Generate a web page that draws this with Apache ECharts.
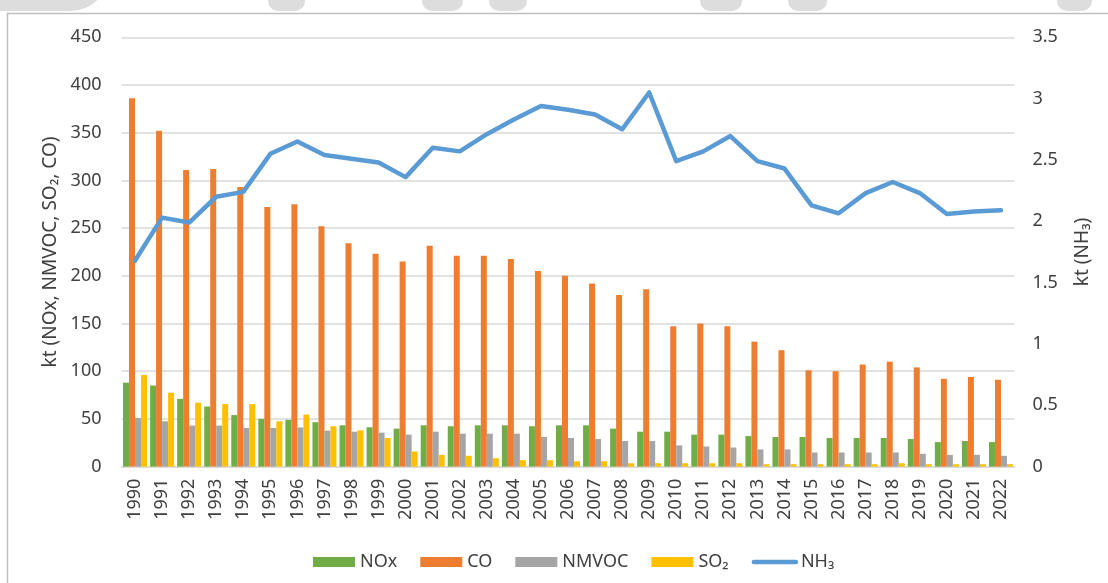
<!DOCTYPE html>
<html>
<head>
<meta charset="utf-8">
<script src="https://cdn.jsdelivr.net/npm/echarts@6/dist/echarts.min.js"></script>
<style>
html, body { margin: 0; padding: 0; background: #fff; }
#chart { width: 1108px; height: 583px; }
</style>
</head>
<body>
<div id="chart"></div>
<script>
// years on the category axis
var years = ['1990','1991','1992','1993','1994','1995','1996','1997','1998','1999','2000',
    '2001','2002','2003','2004','2005','2006','2007','2008','2009','2010','2011',
    '2012','2013','2014','2015','2016','2017','2018','2019','2020','2021','2022'];

// kt, left axis
var nox = [88, 85, 71, 63, 54, 50, 49, 46.5, 43.3, 41.2, 39.8, 43.3, 42.3, 43.3, 43.3, 42.3,
    43.3, 43.3, 39.8, 36.6, 36.6, 33.5, 33.5, 32, 31, 31, 30, 30, 30, 28.9, 25.7, 26.8, 25.7];
var co = [386, 352, 311, 312, 293, 272, 275, 252, 234, 223, 215, 231.5, 221, 221, 217.5, 205,
    200, 192, 180, 186, 147, 150, 147, 131, 122, 101, 100, 107, 110, 104, 92, 94, 91];
var nmvoc = [51, 47.5, 43, 43, 40.5, 40.5, 41, 37.7, 36.6, 35.6, 33.5, 36.6, 34.5, 34.5, 34.5, 31,
    30, 28.9, 26.8, 26.8, 22.2, 21.1, 20, 18, 18, 14.8, 14.8, 14.8, 14.8, 13.4, 12.3, 12.3, 11.3];
var so2 = [96, 77.5, 67, 65.5, 65.5, 47.5, 54.6, 42.3, 38, 30, 15.8, 12.3, 11.3, 8.8, 6.7, 6.7,
    5.6, 5.6, 3.5, 3.5, 3.5, 3.5, 3.5, 2.5, 2.5, 2.5, 2.5, 2.5, 3.5, 2.5, 2.5, 2.5, 2.5];
// kt, right axis
var nh3 = [1.68, 2.03, 1.99, 2.2, 2.24, 2.55, 2.65, 2.54, 2.51, 2.48, 2.36, 2.6, 2.57, 2.71, 2.83, 2.94,
    2.91, 2.87, 2.75, 3.05, 2.49, 2.57, 2.695, 2.49, 2.43, 2.13, 2.065, 2.23, 2.32, 2.23, 2.06, 2.08, 2.09];

var FONT = 'Noto Sans';
var TXT = '#404040';
var GRIDC = '#d9d9d9';

function barSeries(name, data, color) {
    return {
        name: name,
        type: 'bar',
        data: data,
        barWidth: 6,
        barGap: '0%',
        itemStyle: { color: color },
        emphasis: { disabled: true }
    };
}

// light grey shapes cut off at the top edge of the picture
function tab(x, w) {
    return {
        type: 'rect',
        shape: { x: x, y: -12, width: w, height: 23, r: 10 },
        style: { fill: '#dddddd' },
        silent: true
    };
}

var option = {
    animation: false,
    textStyle: { fontFamily: FONT },
    graphic: [
        { type: 'rect', shape: { x: -30, y: -30, width: 140, height: 41, r: [0, 0, 40, 0] },
          style: { fill: '#dddddd' }, silent: true },
        tab(268, 37), tab(422, 41), tab(489, 38), tab(700, 42), tab(788, 39), tab(1057, 35),
        { type: 'rect', shape: { x: 7.5, y: 13.5, width: 1110, height: 580 },
          style: { fill: 'none', stroke: '#bfbfbf', lineWidth: 1.5 }, silent: true }
    ],
    grid: { left: 121.5, right: 93.5, top: 37.3, bottom: 116.4 },
    legend: {
        left: 308,
        top: 548,
        itemWidth: 42,
        itemHeight: 10,
        itemGap: 23,
        textStyle: { fontFamily: FONT, fontSize: 18, color: TXT },
        data: [
            { name: 'NOx', icon: 'rect' },
            { name: 'CO', icon: 'rect' },
            { name: 'NMVOC', icon: 'rect' },
            { name: 'SO₂', icon: 'rect' },
            { name: 'NH₃', itemStyle: { opacity: 0 }, lineStyle: { width: 4.5 } }
        ]
    },
    xAxis: {
        type: 'category',
        data: years,
        axisLine: { lineStyle: { color: GRIDC, width: 1.5 } },
        axisTick: { show: false },
        axisLabel: { rotate: 90, fontSize: 18, color: TXT, margin: 12, fontFamily: FONT }
    },
    yAxis: [
        {
            type: 'value',
            min: 0, max: 450, interval: 50,
            name: 'kt (NOx, NMVOC, SO₂, CO)',
            nameLocation: 'middle',
            nameRotate: 90,
            nameGap: 61,
            nameTextStyle: { fontSize: 19, color: TXT, fontFamily: FONT },
            axisLine: { show: false },
            axisTick: { show: false },
            axisLabel: { fontSize: 18, color: TXT, margin: 20, fontFamily: FONT },
            splitLine: { lineStyle: { color: GRIDC, width: 1.5 } }
        },
        {
            type: 'value',
            min: 0, max: 3.5, interval: 0.5,
            name: 'kt (NH₃)',
            nameLocation: 'middle',
            nameRotate: 90,
            nameGap: 59,
            nameTextStyle: { fontSize: 19, color: TXT, fontFamily: FONT },
            axisLine: { show: false },
            axisTick: { show: false },
            axisLabel: { fontSize: 18, color: TXT, margin: 18, fontFamily: FONT },
            splitLine: { show: false }
        }
    ],
    series: [
        barSeries('NOx', nox, '#70ad47'),
        barSeries('CO', co, '#ed7d31'),
        barSeries('NMVOC', nmvoc, '#a5a5a5'),
        barSeries('SO₂', so2, '#ffc000'),
        {
            name: 'NH₃',
            type: 'line',
            yAxisIndex: 1,
            data: nh3,
            symbol: 'none',
            lineStyle: { color: '#5b9bd5', width: 4.5, cap: 'round', join: 'round' },
            itemStyle: { color: '#5b9bd5' },
            emphasis: { disabled: true }
        }
    ]
};

var myChart = echarts.init(document.getElementById('chart'));
myChart.setOption(option);
</script>
</body>
</html>
